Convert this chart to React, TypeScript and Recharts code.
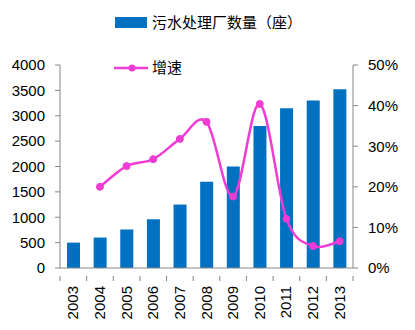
import { ComposedChart, Bar, Line, XAxis, YAxis } from "recharts";

const years = ["2003", "2004", "2005", "2006", "2007", "2008", "2009", "2010", "2011", "2012", "2013"];
const plants = [500, 600, 760, 960, 1250, 1700, 2000, 2800, 3150, 3300, 3520];
const growth = [null, 20, 25.1, 26.8, 31.8, 36, 17.6, 40.4, 12.1, 5.4, 6.6];
const leftTicks = [0, 500, 1000, 1500, 2000, 2500, 3000, 3500, 4000];
const rightTicks = [0, 10, 20, 30, 40, 50];

const data = years.map((year, i) => ({ year, plants: plants[i], growth: growth[i] }));

const BLUE = "#0070C0";
const PINK = "#F03CD4";
const AXIS = "#868686";
const FONT = "'Liberation Sans', Arial, sans-serif";
const CJK = "'Noto Sans CJK SC', sans-serif";

// Excel-style smoothed line (uniform Catmull-Rom as cubic beziers)
function excelCurve(context: any) {
  let pts: number[][] = [];
  return {
    areaStart() {},
    areaEnd() {},
    lineStart() {
      pts = [];
    },
    point(x: number, y: number) {
      pts.push([+x, +y]);
    },
    lineEnd() {
      const n = pts.length;
      if (!n) return;
      context.moveTo(pts[0][0], pts[0][1]);
      for (let i = 0; i < n - 1; i++) {
        const p0 = pts[Math.max(i - 1, 0)];
        const p1 = pts[i];
        const p2 = pts[i + 1];
        const p3 = pts[Math.min(i + 2, n - 1)];
        context.bezierCurveTo(
          p1[0] + (p2[0] - p0[0]) / 6,
          p1[1] + (p2[1] - p0[1]) / 6,
          p2[0] - (p3[0] - p1[0]) / 6,
          p2[1] - (p3[1] - p1[1]) / 6,
          p2[0],
          p2[1]
        );
      }
    },
  };
}

const BAND = (353 - 60) / years.length;

function YearTick(props: any) {
  const { x, y, payload, index } = props;
  return (
    <g>
      <line x1={x - BAND / 2} x2={x - BAND / 2} y1={y} y2={y + 5} stroke={AXIS} />
      {index === years.length - 1 && (
        <line x1={x + BAND / 2} x2={x + BAND / 2} y1={y} y2={y + 5} stroke={AXIS} />
      )}
      <text
        transform={`translate(${x + 5},${y + 10}) rotate(-90)`}
        textAnchor="end"
        fontSize={15}
        fontFamily={FONT}
        fill="#000"
      >
        {payload.value}
      </text>
    </g>
  );
}

export default function App() {
  return (
    <div style={{ position: "absolute", left: 0, top: 0, width: 415, height: 330, background: "#fff" }}>
      <ComposedChart width={415} height={330} data={data} margin={{ top: 65, right: 0, left: 0, bottom: 0 }}>
        <XAxis
          dataKey="year"
          height={62}
          interval={0}
          tickLine={false}
          axisLine={{ stroke: AXIS }}
          tick={<YearTick />}
        />
        <YAxis
          yAxisId="l"
          width={60}
          domain={[0, 4000]}
          ticks={leftTicks}
          tickSize={5}
          tickMargin={10}
          tickLine={{ stroke: AXIS }}
          axisLine={{ stroke: AXIS }}
          tick={{ fill: "#000", fontSize: 15, fontFamily: FONT }}
        />
        <YAxis
          yAxisId="r"
          orientation="right"
          width={62}
          domain={[0, 50]}
          ticks={rightTicks}
          tickSize={5}
          tickMargin={10}
          tickFormatter={(v) => `${v}%`}
          tickLine={{ stroke: AXIS }}
          axisLine={{ stroke: AXIS }}
          tick={{ fill: "#000", fontSize: 15, fontFamily: FONT, textAnchor: "start" }}
        />
        <Bar yAxisId="l" dataKey="plants" fill={BLUE} barSize={13} isAnimationActive={false} />
        <Line
          yAxisId="r"
          dataKey="growth"
          type={excelCurve as any}
          stroke={PINK}
          strokeWidth={2.5}
          dot={{ r: 3.5, fill: PINK, stroke: PINK, strokeWidth: 1 }}
          isAnimationActive={false}
        />
      </ComposedChart>
      <div style={{ position: "absolute", left: 115, top: 17, width: 32, height: 11, background: BLUE }} />
      <div
        style={{ position: "absolute", left: 152, top: 11, fontSize: 15, lineHeight: "22px", fontFamily: CJK, color: "#000", whiteSpace: "nowrap" }}
      >
        污水处理厂数量（座）
      </div>
      <svg style={{ position: "absolute", left: 112, top: 60 }} width={40} height={16}>
        <line x1={2} x2={36} y1={8} y2={8} stroke={PINK} strokeWidth={2.5} />
        <circle cx={20} cy={8} r={3.5} fill={PINK} />
      </svg>
      <div
        style={{ position: "absolute", left: 152, top: 56, fontSize: 15, lineHeight: "22px", fontFamily: CJK, color: "#000", whiteSpace: "nowrap" }}
      >
        增速
      </div>
    </div>
  );
}
